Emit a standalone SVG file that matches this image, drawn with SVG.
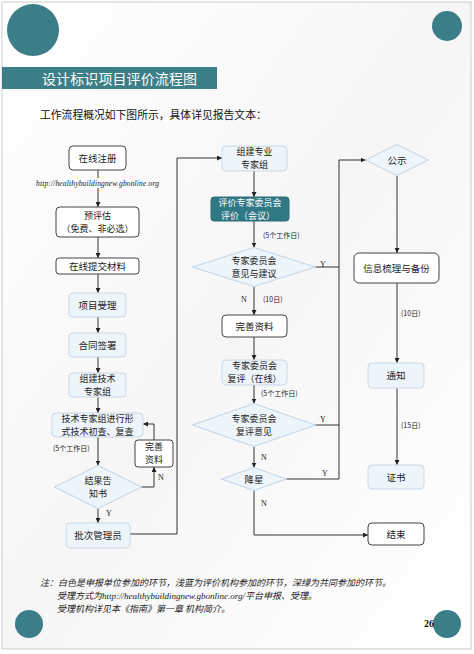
<svg xmlns="http://www.w3.org/2000/svg" width="474" height="654" viewBox="0 0 474 654">
<defs>
<marker id="arr" viewBox="0 0 10 10" refX="10" refY="5" markerWidth="5" markerHeight="5" orient="auto" markerUnits="userSpaceOnUse"><path d="M0,0 L10,5 L0,10 z" fill="#222"/></marker>
<linearGradient id="bg" x1="0" y1="0" x2="1" y2="1"><stop offset="0" stop-color="#ffffff"/><stop offset="0.5" stop-color="#f6f6f6"/><stop offset="1" stop-color="#ffffff"/></linearGradient>
</defs>
<style>
.t{font-family:"Noto Sans CJK SC","Noto Sans",sans-serif;font-size:9.5px;fill:#222;text-anchor:middle}
.t2{font-size:9px}
.tw{fill:#fff}
.lb{font-family:"Noto Sans CJK SC","Noto Sans",sans-serif;font-size:7px;fill:#222}
.yn{font-family:"Liberation Serif",serif;font-size:8px;fill:#222}
.wn{fill:#fff;stroke:#444;stroke-width:1}
.bl{fill:#edf4fa;stroke:#c8d9e8;stroke-width:1}
.dk{fill:#2f7884;stroke:#2a6c77;stroke-width:1}
.dm{fill:#edf4fa;stroke:#c0d4e6;stroke-width:1}
.c{fill:none;stroke:#333;stroke-width:1}
.ca{fill:none;stroke:#333;stroke-width:1;marker-end:url(#arr)}
.circ{fill:#3b7e87}
.note{font-family:"Noto Sans CJK SC","Noto Sans",sans-serif;font-size:9px;font-style:italic;fill:#222}
</style>
<rect x="0" y="0" width="474" height="654" fill="#fff"/>
<rect x="2" y="2" width="469" height="647" fill="url(#bg)" stroke="#d4d4d4" stroke-width="1.2"/>
<circle class="circ" cx="33" cy="30" r="26"/>
<circle class="circ" cx="447" cy="26" r="15"/>
<circle class="circ" cx="29" cy="624" r="14"/>
<circle class="circ" cx="447" cy="624" r="14"/>
<rect x="2" y="67" width="215" height="22" fill="#3d7f88"/>
<text x="42" y="84" font-family="'Noto Sans CJK SC',sans-serif" font-size="14" fill="#fff" textLength="155">设计标识项目评价流程图</text>
<text x="40" y="119" font-family="'Noto Sans CJK SC',sans-serif" font-size="10.8" fill="#111">工作流程概况如下图所示，具体详见报告文本：</text>

<g id="connectors">
<path class="c" d="M98,170 V178"/>
<path class="ca" d="M98,188 V207"/>
<path class="ca" d="M98,237 V258"/>
<path class="ca" d="M98,274 V293"/>
<path class="ca" d="M98,317 V333"/>
<path class="ca" d="M98,357 V373"/>
<path class="ca" d="M98,397 V413"/>
<path class="ca" d="M98,437 V465.5"/>
<path class="ca" d="M98,508.5 V523"/>
<path class="ca" d="M141.5,487 H154 V467"/>
<path class="ca" d="M154,440 V424 H143"/>
<path class="ca" d="M130,534 H177 V158 H222"/>
<path class="ca" d="M254,171 V197"/>
<path class="ca" d="M254,221 V247.5"/>
<path class="ca" d="M254,286.5 V315"/>
<path class="ca" d="M254,337 V360"/>
<path class="ca" d="M254,385 V403.5"/>
<path class="ca" d="M254,446.5 V467.5"/>
<path class="ca" d="M254,490.5 V535 H368"/>
<path class="c" d="M315.5,267 H339"/>
<path class="c" d="M315.5,425 H339"/>
<path class="ca" d="M286.5,479 H339 V160 H365.5"/>
<path class="ca" d="M397,175.5 V253"/>
<path class="ca" d="M397,283 V363"/>
<path class="ca" d="M397,388 V465"/>
<text class="yn" x="106" y="516">Y</text>
<text class="yn" x="158" y="480">N</text>
<text class="lb" x="53" y="451">(5个工作日)</text>
<text class="lb" x="263" y="238">(5个工作日)</text>
<text class="yn" x="241" y="302">N</text>
<text class="lb" x="263" y="302">(10日)</text>
<text class="lb" x="261" y="396">(5个工作日)</text>
<text class="yn" x="261" y="460">N</text>
<text class="yn" x="261" y="506">N</text>
<text class="yn" x="320" y="267">Y</text>
<text class="yn" x="320" y="422">Y</text>
<text class="yn" x="322" y="476">Y</text>
<text class="lb" x="401" y="316">(10日)</text>
<text class="lb" x="401" y="428">(15日)</text>
<text x="36" y="186" font-family="'Liberation Serif',serif" font-style="italic" font-size="7.5" fill="#222" textLength="123">http://healthybuildingnew.gbonline.org</text>
</g>

<g id="n1"><rect class="wn" x="69" y="146" width="57" height="24" rx="4"/><text class="t" x="97.5" y="161.5">在线注册</text></g>
<g id="n2"><rect class="wn" x="56" y="207" width="83" height="30" rx="4"/><text class="t t2"><tspan x="97.5" y="218.6">预评估</tspan><tspan x="97.5" y="231.7">（免费、非必选）</tspan></text></g>
<g id="n3"><rect class="wn" x="56" y="258" width="83" height="16" rx="3"/><text class="t" x="97.5" y="269.5">在线提交材料</text></g>
<g id="n4"><rect class="bl" x="69" y="293" width="57" height="24" rx="4"/><text class="t" x="97.5" y="308.5">项目受理</text></g>
<g id="n5"><rect class="bl" x="69" y="333" width="57" height="24" rx="4"/><text class="t" x="97.5" y="348.5">合同签署</text></g>
<g id="n6"><rect class="bl" x="69" y="373" width="57" height="24" rx="4"/><text class="t t2"><tspan x="97.5" y="381.6">组建技术</tspan><tspan x="97.5" y="394.7">专家组</tspan></text></g>
<g id="n7"><rect class="bl" x="52" y="413" width="91" height="24" rx="4"/><text class="t t2"><tspan x="97.5" y="421.6">技术专家组进行形</tspan><tspan x="97.5" y="434.7">式技术初查、复查</tspan></text></g>
<g id="n8"><rect class="wn" x="135" y="440" width="38" height="27" rx="3"/><text class="t t2"><tspan x="154" y="450.1">完善</tspan><tspan x="154" y="463.2">资料</tspan></text></g>
<g id="n9"><polygon class="dm" points="98,465.5 141.5,487 98,508.5 54.5,487"/><text class="t t2"><tspan x="98" y="483.6">结果告</tspan><tspan x="98" y="496.7">知书</tspan></text></g>
<g id="n10"><rect class="bl" x="66" y="523" width="64" height="25" rx="4"/><text class="t" x="98" y="539">批次管理员</text></g>

<g id="n11"><rect class="bl" x="222" y="146" width="65" height="25" rx="4"/><text class="t t2"><tspan x="254.5" y="155.1">组建专业</tspan><tspan x="254.5" y="168.2">专家组</tspan></text></g>
<g id="n12"><rect class="dk" x="211" y="197" width="78" height="24" rx="3"/><text class="t t2 tw"><tspan x="250" y="205.6">评价专家委员会</tspan><tspan x="248" y="218.7">评价（会议）</tspan></text></g>
<g id="n13"><polygon class="dm" points="254,247.5 315.5,267 254,286.5 192.5,267"/><text class="t t2"><tspan x="254" y="263.6">专家委员会</tspan><tspan x="254" y="276.7">意见与建议</tspan></text></g>
<g id="n14"><rect class="wn" x="222" y="315" width="65" height="22" rx="4"/><text class="t" x="254.5" y="329.5">完善资料</text></g>
<g id="n15"><rect class="bl" x="222" y="360" width="65" height="25" rx="4"/><text class="t t2"><tspan x="254.5" y="369.1">专家委员会</tspan><tspan x="254.5" y="382.2">复评（在线）</tspan></text></g>
<g id="n16"><polygon class="dm" points="254,403.5 315.5,425 254,446.5 192.5,425"/><text class="t t2"><tspan x="254" y="421.6">专家委员会</tspan><tspan x="254" y="434.7">复评意见</tspan></text></g>
<g id="n17"><polygon class="dm" points="254,467.5 286.5,479 254,490.5 221.5,479"/><text class="t" x="254" y="482.5">降星</text></g>

<g id="n18"><polygon class="dm" points="397,144.5 428.5,160 397,175.5 365.5,160"/><text class="t" x="397" y="163.5">公示</text></g>
<g id="n19"><rect class="wn" x="354" y="253" width="85" height="30" rx="5"/><text class="t" x="396.5" y="271.5">信息梳理与备份</text></g>
<g id="n20"><rect class="bl" x="368" y="363" width="56" height="25" rx="4"/><text class="t" x="396" y="379">通知</text></g>
<g id="n21"><rect class="bl" x="368" y="465" width="56" height="24" rx="4"/><text class="t" x="396" y="480.5">证书</text></g>
<g id="n22"><rect class="wn" x="368" y="523" width="56" height="22" rx="4"/><text class="t" x="396" y="537.5">结束</text></g>

<text class="note"><tspan x="40" y="585.5">注：白色是申报单位参加的环节，浅蓝为评价机构参加的环节，深绿为共同参加的环节。</tspan><tspan x="57" y="598.6">受理方式为</tspan><tspan font-family="'Liberation Serif',serif">http://healthybuildingnew.gbonline.org/</tspan><tspan>平台申报、受理。</tspan><tspan x="57" y="611.7">受理机构详见本《指南》第一章 机构简介。</tspan></text>
<text x="424" y="627" font-family="'Liberation Serif',serif" font-weight="bold" font-size="10" fill="#111">26</text>
</svg>
